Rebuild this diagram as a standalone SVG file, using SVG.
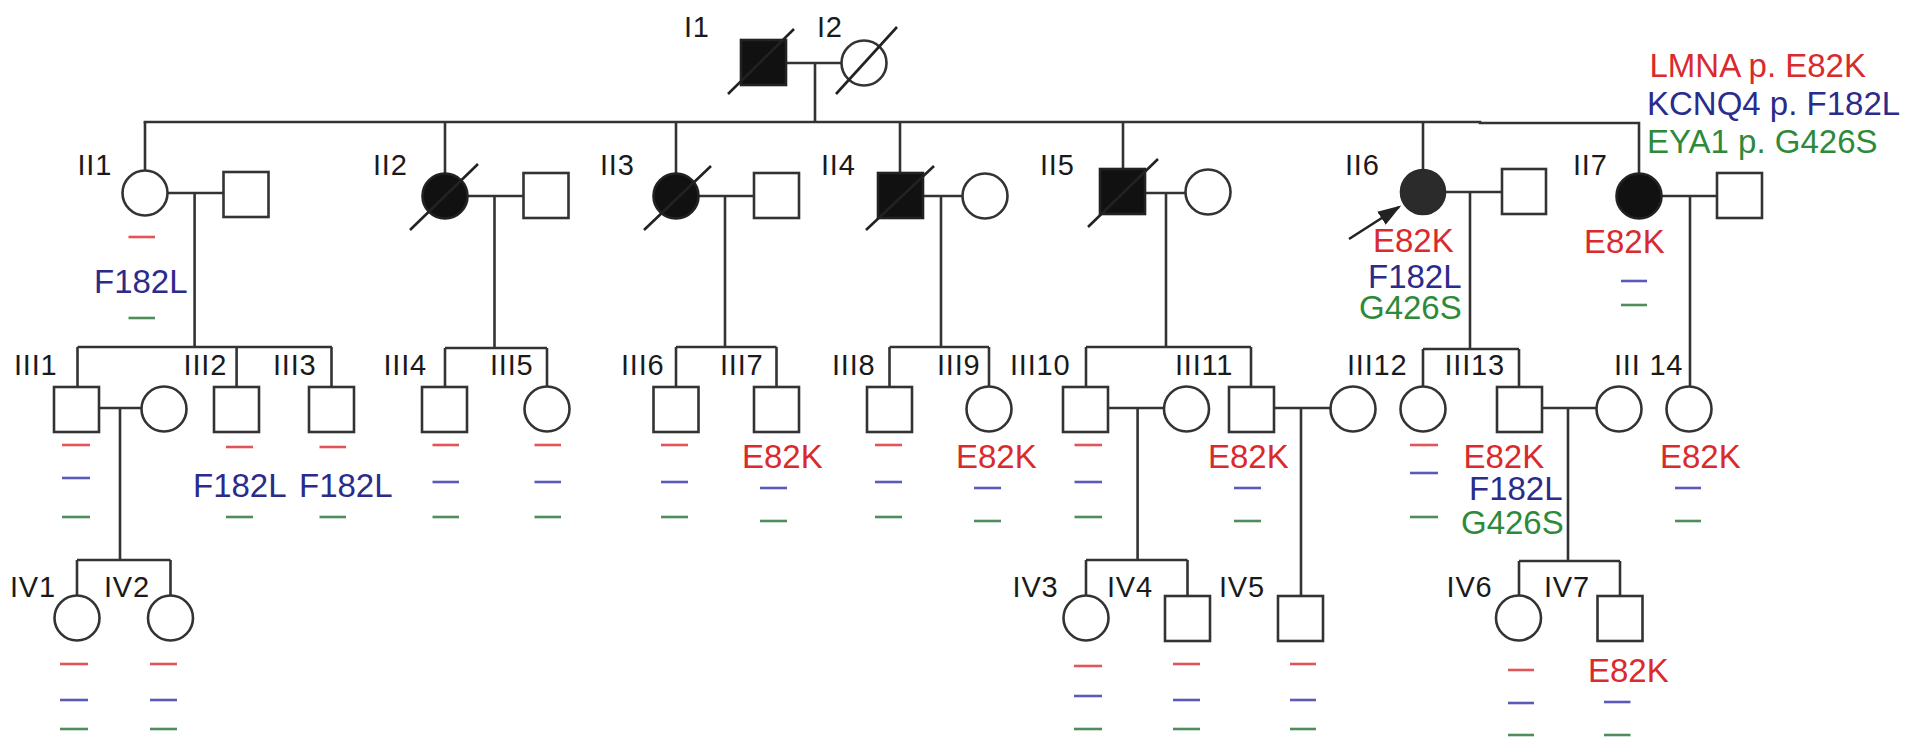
<svg xmlns="http://www.w3.org/2000/svg" width="1913" height="754" viewBox="0 0 1913 754">
<style>
.s{fill:#fff;stroke:#333;stroke-width:2.6}
.f{fill:#111;stroke:#222;stroke-width:2.6}
.f6{fill:#2b2b2b;stroke:#2b2b2b;stroke-width:2.6}
.ln{fill:none;stroke:#333;stroke-width:2.6}
.sl{stroke:#222;stroke-width:2.6}
.lbl{font-family:"Liberation Sans",Arial,sans-serif;font-size:29px;fill:#1a1a1a;letter-spacing:0.8px}
.mt{font-family:"Liberation Sans",Arial,sans-serif;font-size:33px}
.r{fill:#d92a2e}.b{fill:#2b2b8c}.g{fill:#2e8a3a}
.dr{stroke:#e05558;stroke-width:2.6}
.db{stroke:#5a5ab8;stroke-width:2.6}
.dg{stroke:#4e8e5c;stroke-width:2.6}
</style>
<defs>
<marker id="ah" markerWidth="9" markerHeight="6" refX="8" refY="3" orient="auto" markerUnits="strokeWidth">
<path d="M0,0 L9,3 L0,6 z" fill="#222"/>
</marker>
</defs>

<g id="connectors">
<path class="ln" d="M143.6,122 H1480 V123 H1639 V173"/>
<path class="ln" d="M786,63 H841.5 M815,63 V122"/>
<path class="ln" d="M145,122 V170.5 M445,122 V173.5 M676,122 V173.5 M900,122 V173 M1123,122 V169 M1423,122 V170"/>
<path class="ln" d="M167.5,193 H223.5 M194.6,193 V347 M77.5,347 H332 M77.5,347 V387 M236.6,347 V387 M331.5,347 V387"/>
<path class="ln" d="M467.5,196 H523.5 M494.5,196 V348 M445,348 H547 M445,348 V387 M547,348 V386.5"/>
<path class="ln" d="M698.5,196 H754 M725,196 V347 M676,347 H776.5 M676,347 V387 M776.5,347 V387"/>
<path class="ln" d="M923,196 H962.5 M941,196 V347 M889.5,347 H989 M889.5,347 V387 M989,347 V386.5"/>
<path class="ln" d="M1145,193 H1185.5 M1166,193 V347 M1086,347 H1251 M1086,347 V387 M1251,347 V387"/>
<path class="ln" d="M1445,192 H1502 M1470,192 V349 M1423,349 H1519 M1423,349 V386.5 M1519,349 V387"/>
<path class="ln" d="M1661.5,196 H1717 M1690,196 V386.5"/>
<path class="ln" d="M99,408 H141.5 M120,408 V560 M77,560 H170.5 M77,560 V595.5 M170.5,560 V595.5"/>
<path class="ln" d="M1108,408 H1164 M1137.6,408 V560 M1086,560 H1187.5 M1086,560 V595.5 M1187.5,560 V596"/>
<path class="ln" d="M1274,408 H1330.5 M1301,408 V596"/>
<path class="ln" d="M1542,408 H1596.5 M1568,408 V561 M1519,561 H1620 M1519,561 V595.5 M1620,561 V596"/>
<line class="sl" x1="1349" y1="239" x2="1399" y2="207" marker-end="url(#ah)" stroke-width="2.4"/>
</g>

<g id="I1"><rect class="f" x="741" y="40" width="45" height="45"/><line class="sl" x1="728" y1="94" x2="794" y2="29"/><text class="lbl" x="684" y="37">I1</text></g>
<g id="I2"><circle class="s" cx="864" cy="63" r="22.5"/><line class="sl" x1="836" y1="94" x2="897" y2="27"/><text class="lbl" x="817" y="37">I2</text></g>

<g id="legend">
<text class="mt r" x="1649.5" y="77">LMNA p. E82K</text>
<text class="mt b" x="1647" y="115">KCNQ4 p. F182L</text>
<text class="mt g" x="1647" y="153">EYA1 p. G426S</text>
</g>

<g id="II1"><circle class="s" cx="145" cy="193" r="22.5"/><text class="lbl" x="77.5" y="175">II1</text>
<line class="dr" x1="128.5" y1="237" x2="155" y2="237"/><text class="mt b" x="94" y="293">F182L</text><line class="dg" x1="128.5" y1="318" x2="155" y2="318"/></g>
<g id="II1s"><rect class="s" x="223.5" y="172" width="45" height="45"/></g>
<g id="II2"><circle class="f" cx="445" cy="196" r="22.5"/><line class="sl" x1="410" y1="230" x2="478" y2="164"/><text class="lbl" x="373" y="175">II2</text></g>
<g id="II2s"><rect class="s" x="523.5" y="173" width="45" height="45"/></g>
<g id="II3"><circle class="f" cx="676" cy="196" r="22.5"/><line class="sl" x1="644" y1="230" x2="711" y2="166"/><text class="lbl" x="600" y="175">II3</text></g>
<g id="II3s"><rect class="s" x="754" y="173" width="45" height="45"/></g>
<g id="II4"><rect class="f" x="878" y="173" width="45" height="45"/><line class="sl" x1="866" y1="230" x2="934" y2="166"/><text class="lbl" x="821" y="175">II4</text></g>
<g id="II4s"><circle class="s" cx="985" cy="196" r="22.5"/></g>
<g id="II5"><rect class="f" x="1100" y="169" width="45" height="45"/><line class="sl" x1="1088" y1="227" x2="1158" y2="159"/><text class="lbl" x="1040" y="175">II5</text></g>
<g id="II5s"><circle class="s" cx="1208" cy="192" r="22.5"/></g>
<g id="II6"><circle class="f6" cx="1423" cy="192" r="22"/><text class="lbl" x="1345" y="175">II6</text>
<text class="mt r" x="1373" y="252">E82K</text><text class="mt b" x="1368" y="288">F182L</text><text class="mt g" x="1359" y="319">G426S</text></g>
<g id="II6s"><rect class="s" x="1502" y="169" width="44" height="45"/></g>
<g id="II7"><circle class="f" cx="1639" cy="196" r="22.5"/><text class="lbl" x="1573" y="175">II7</text>
<text class="mt r" x="1584" y="253">E82K</text><line class="db" x1="1621" y1="281" x2="1647" y2="281"/><line class="dg" x1="1621" y1="305" x2="1647" y2="305"/></g>
<g id="II7s"><rect class="s" x="1717" y="173" width="45" height="45"/></g>

<g id="III1"><rect class="s" x="54" y="387" width="45" height="45"/><text class="lbl" x="14" y="375">III1</text>
<line class="dr" x1="62" y1="445" x2="90" y2="445"/><line class="db" x1="62" y1="478" x2="90" y2="478"/><line class="dg" x1="62" y1="517" x2="90" y2="517"/></g>
<g id="III1s"><circle class="s" cx="164" cy="409" r="22.5"/></g>
<g id="III2"><rect class="s" x="214" y="387" width="45" height="45"/><text class="lbl" x="183.6" y="375">III2</text>
<line class="dr" x1="226" y1="447" x2="253" y2="447"/><text class="mt b" x="193" y="497">F182L</text><line class="dg" x1="226" y1="517" x2="253" y2="517"/></g>
<g id="III3"><rect class="s" x="309" y="387" width="45" height="45"/><text class="lbl" x="273" y="375">III3</text>
<line class="dr" x1="319.5" y1="447" x2="346" y2="447"/><text class="mt b" x="299" y="497">F182L</text><line class="dg" x1="319.5" y1="517" x2="346" y2="517"/></g>
<g id="III4"><rect class="s" x="422" y="387" width="45" height="45"/><text class="lbl" x="383.5" y="375">III4</text>
<line class="dr" x1="432.5" y1="445" x2="459" y2="445"/><line class="db" x1="432.5" y1="482" x2="459" y2="482"/><line class="dg" x1="432.5" y1="517" x2="459" y2="517"/></g>
<g id="III5"><circle class="s" cx="547" cy="409" r="22.5"/><text class="lbl" x="490" y="375">III5</text>
<line class="dr" x1="534.5" y1="445" x2="561" y2="445"/><line class="db" x1="534.5" y1="482" x2="561" y2="482"/><line class="dg" x1="534.5" y1="517" x2="561" y2="517"/></g>
<g id="III6"><rect class="s" x="653.5" y="387" width="45" height="45"/><text class="lbl" x="621" y="375">III6</text>
<line class="dr" x1="661" y1="445" x2="688" y2="445"/><line class="db" x1="661" y1="482" x2="688" y2="482"/><line class="dg" x1="661" y1="517" x2="688" y2="517"/></g>
<g id="III7"><rect class="s" x="754" y="387" width="45" height="45"/><text class="lbl" x="720" y="375">III7</text>
<text class="mt r" x="742" y="468">E82K</text><line class="db" x1="760" y1="488" x2="787" y2="488"/><line class="dg" x1="760" y1="521" x2="787" y2="521"/></g>
<g id="III8"><rect class="s" x="867" y="387" width="45" height="45"/><text class="lbl" x="832" y="375">III8</text>
<line class="dr" x1="875" y1="445" x2="902" y2="445"/><line class="db" x1="875" y1="482" x2="902" y2="482"/><line class="dg" x1="875" y1="517" x2="902" y2="517"/></g>
<g id="III9"><circle class="s" cx="989" cy="409" r="22.5"/><text class="lbl" x="937" y="375">III9</text>
<text class="mt r" x="956" y="468">E82K</text><line class="db" x1="974" y1="488" x2="1001" y2="488"/><line class="dg" x1="974" y1="521" x2="1001" y2="521"/></g>
<g id="III10"><rect class="s" x="1063" y="387" width="45" height="45"/><text class="lbl" x="1010" y="375">III10</text>
<line class="dr" x1="1074.5" y1="445" x2="1102" y2="445"/><line class="db" x1="1074.5" y1="482" x2="1102" y2="482"/><line class="dg" x1="1074.5" y1="517" x2="1102" y2="517"/></g>
<g id="III10s"><circle class="s" cx="1186.5" cy="409" r="22.5"/></g>
<g id="III11"><rect class="s" x="1229" y="387" width="45" height="45"/><text class="lbl" x="1175" y="375">III11</text>
<text class="mt r" x="1208" y="468">E82K</text><line class="db" x1="1234" y1="488" x2="1261" y2="488"/><line class="dg" x1="1234" y1="521" x2="1261" y2="521"/></g>
<g id="III11s"><circle class="s" cx="1353" cy="409" r="22.5"/></g>
<g id="III12"><circle class="s" cx="1423" cy="409" r="22.5"/><text class="lbl" x="1347" y="375">III12</text>
<line class="dr" x1="1410" y1="445" x2="1438" y2="445"/><line class="db" x1="1410" y1="473" x2="1438" y2="473"/><line class="dg" x1="1410" y1="517" x2="1438" y2="517"/></g>
<g id="III13"><rect class="s" x="1497" y="387" width="45" height="45"/><text class="lbl" x="1444.5" y="375">III13</text>
<text class="mt r" x="1463.5" y="468">E82K</text><text class="mt b" x="1469" y="500">F182L</text><text class="mt g" x="1461" y="534">G426S</text></g>
<g id="III13s"><circle class="s" cx="1619" cy="409" r="22.5"/></g>
<g id="III14"><circle class="s" cx="1689" cy="409" r="22.5"/><text class="lbl" x="1614" y="375">III 14</text>
<text class="mt r" x="1660" y="468">E82K</text><line class="db" x1="1675" y1="488" x2="1701" y2="488"/><line class="dg" x1="1675" y1="521" x2="1701" y2="521"/></g>

<g id="IV1"><circle class="s" cx="77" cy="618" r="22.5"/><text class="lbl" x="10" y="597">IV1</text>
<line class="dr" x1="60" y1="664" x2="88" y2="664"/><line class="db" x1="60" y1="700" x2="88" y2="700"/><line class="dg" x1="60" y1="729" x2="88" y2="729"/></g>
<g id="IV2"><circle class="s" cx="170.5" cy="618" r="22.5"/><text class="lbl" x="104" y="597">IV2</text>
<line class="dr" x1="150" y1="664" x2="177" y2="664"/><line class="db" x1="150" y1="700" x2="177" y2="700"/><line class="dg" x1="150" y1="729" x2="177" y2="729"/></g>
<g id="IV3"><circle class="s" cx="1086" cy="618" r="22.5"/><text class="lbl" x="1012.6" y="597">IV3</text>
<line class="dr" x1="1074" y1="666" x2="1102" y2="666"/><line class="db" x1="1074" y1="696" x2="1102" y2="696"/><line class="dg" x1="1074" y1="729" x2="1102" y2="729"/></g>
<g id="IV4"><rect class="s" x="1165" y="596" width="45" height="45"/><text class="lbl" x="1107" y="597">IV4</text>
<line class="dr" x1="1173" y1="664" x2="1200" y2="664"/><line class="db" x1="1173" y1="700" x2="1200" y2="700"/><line class="dg" x1="1173" y1="729" x2="1200" y2="729"/></g>
<g id="IV5"><rect class="s" x="1278" y="596" width="45" height="45"/><text class="lbl" x="1219" y="597">IV5</text>
<line class="dr" x1="1290" y1="664" x2="1316" y2="664"/><line class="db" x1="1290" y1="700" x2="1316" y2="700"/><line class="dg" x1="1290" y1="729" x2="1316" y2="729"/></g>
<g id="IV6"><circle class="s" cx="1518.5" cy="618" r="22.5"/><text class="lbl" x="1446.6" y="597">IV6</text>
<line class="dr" x1="1508" y1="670" x2="1534" y2="670"/><line class="db" x1="1508" y1="703" x2="1534" y2="703"/><line class="dg" x1="1508" y1="735" x2="1534" y2="735"/></g>
<g id="IV7"><rect class="s" x="1597.5" y="596" width="45" height="45"/><text class="lbl" x="1544" y="597">IV7</text>
<text class="mt r" x="1588" y="682">E82K</text><line class="db" x1="1604" y1="702" x2="1630.5" y2="702"/><line class="dg" x1="1604" y1="735" x2="1630.5" y2="735"/></g>
</svg>
